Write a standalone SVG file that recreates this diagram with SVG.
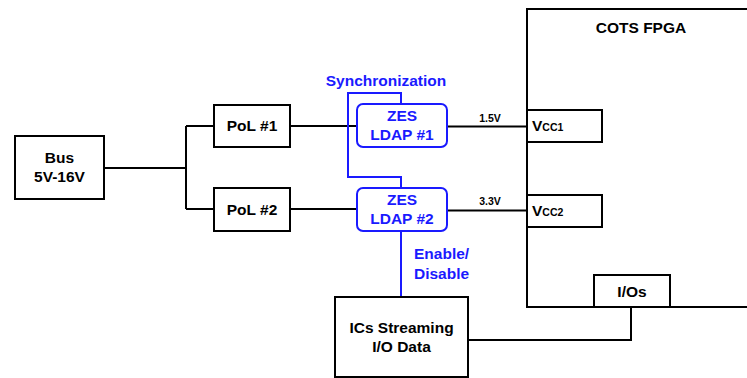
<svg xmlns="http://www.w3.org/2000/svg" width="747" height="378" viewBox="0 0 747 378">
<style>
.box{fill:#fff;stroke:#000;stroke-width:2}
.zbox{fill:#fff;stroke:#1a1aff;stroke-width:2}
.ln{fill:none;stroke:#000;stroke-width:2}
.bl{fill:none;stroke:#1a1aff;stroke-width:2}
text{font-family:"Liberation Sans",Arial,sans-serif;font-weight:bold;font-size:15.5px;fill:#000}
.c{text-anchor:middle}
.b{fill:#1a1aff}
.s{font-size:10.5px}
</style>
<rect width="747" height="378" fill="#fff"/>
<g id="connectors">
<path class="ln" d="M104 168H186M186 126V209M186 126H214M186 209H214"/>
<path class="ln" d="M290 126H357M290 209H357"/>
<path class="ln" d="M447 126.5H527M447 210.5H527"/>
<path class="ln" d="M631 307V340H468"/>
<path class="bl" d="M401 104V93H348V177H401V188"/>
<path class="bl" d="M401 231V297"/>
</g>
<g id="fpga">
<rect class="box" x="527" y="9" width="240" height="298"/>
<text class="c" x="641" y="33">COTS FPGA</text>
</g>
<g id="bus">
<rect class="box" x="15" y="136" width="89" height="63"/>
<text class="c" x="59.5" y="163">Bus</text>
<text class="c" x="59.5" y="182">5V-16V</text>
</g>
<g id="pol1">
<rect class="box" x="214" y="105" width="76" height="42"/>
<text class="c" x="252" y="131">PoL #1</text>
</g>
<g id="pol2">
<rect class="box" x="214" y="188" width="76" height="43"/>
<text class="c" x="252" y="215">PoL #2</text>
</g>
<g id="zes1">
<rect class="zbox" x="357" y="104" width="90" height="43" rx="6"/>
<text class="c b" x="402" y="121">ZES</text>
<text class="c b" x="402" y="140">LDAP #1</text>
</g>
<g id="zes2">
<rect class="zbox" x="357" y="188" width="90" height="43" rx="6"/>
<text class="c b" x="402" y="205">ZES</text>
<text class="c b" x="402" y="224">LDAP #2</text>
</g>
<g id="labels">
<text class="c b" x="386" y="86">Synchronization</text>
<text class="c s" x="490" y="122">1.5V</text>
<text class="c s" x="490" y="205">3.3V</text>
<text class="b" x="414" y="259">Enable/</text>
<text class="b" x="414" y="279">Disable</text>
</g>
<g id="vcc1">
<rect class="box" x="527" y="110" width="75" height="32"/>
<text x="532" y="131">V<tspan font-size="10.5px">CC1</tspan></text>
</g>
<g id="vcc2">
<rect class="box" x="527" y="195" width="75" height="32"/>
<text x="532" y="216">V<tspan font-size="10.5px">CC2</tspan></text>
</g>
<g id="ios">
<rect class="box" x="594" y="275" width="76" height="32"/>
<text class="c" x="632" y="297">I/Os</text>
</g>
<g id="ics">
<rect class="box" x="335" y="297" width="133" height="80"/>
<text class="c" x="401.5" y="333">ICs Streaming</text>
<text class="c" x="401.5" y="352">I/O Data</text>
</g>
</svg>
